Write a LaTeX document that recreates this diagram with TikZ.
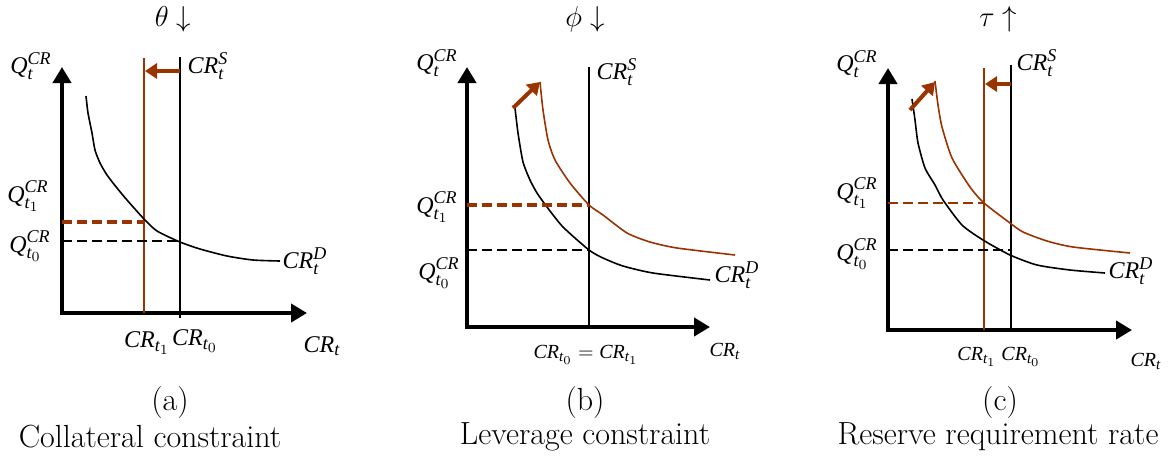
\documentclass[tikz,border=0pt]{standalone}
\usepackage{amsmath}
\usepackage{fontspec}
\newfontfamily\tnr{Liberation Serif}
\usetikzlibrary{arrows.meta}
\definecolor{rust}{RGB}{153,51,0}
\DeclareMathSizes{12}{12}{9}{7}
\DeclareMathSizes{10}{10}{7.5}{6}
\newcommand{\ti}[1]{\text{\tnr\itshape #1}}
\tikzset{
  axis/.style={line width=2pt, {Triangle[length=8pt,width=9pt]}-{Triangle[length=8pt,width=9pt]}},
  demand/.style={line width=0.8pt, smooth, tension=0.4},
  supply/.style={line width=0.7pt},
  movearr/.style={rust, line width=2pt, -{Triangle[length=6pt,width=7.5pt]}},
  level/.style={line width=1pt, dash pattern=on 5pt off 2.5pt},
  lab/.style={font=\large, inner sep=0pt},
  captxt/.style={font=\fontsize{16}{19}\selectfont, inner sep=0pt},
  ttl/.style={font=\fontsize{15}{18}\selectfont, inner sep=0pt, anchor=north}
}

\begin{document}
\begin{tikzpicture}[x=0.5pt, y=-0.5pt]
  \useasboundingbox (0,0) rectangle (1171,457);

  % (a) collateral constraint
  \node[ttl] (Ta) at (173,6) {$\theta\downarrow$};
  \coordinate (Oa) at (62,313);
  \coordinate (Ya) at (62,67);
  \coordinate (Xa) at (307,313);
  \draw[axis] (Ya) -- (Oa) -- (Xa);
  \coordinate (S0at) at (180,57);  \coordinate (S0ab) at (180,318);
  \coordinate (S1at) at (144,58);  \coordinate (S1ab) at (144,313);
  \draw[supply] (S0at) -- (S0ab);
  \draw[supply, rust, line width=0.6pt] (S1at) -- (S1ab);
  \coordinate (Aa0) at (180,71);  \coordinate (Aa1) at (145,71);
  \draw[movearr] (Aa0) -- (Aa1);
  \draw[demand] plot coordinates {(86,96) (88,113) (92,133) (95,150) (100,163) (107,175) (117,188) (127,200) (144,219) (157,231) (180,242) (200,249) (227,256) (253,260) (280,261)};
  \coordinate (E0a) at (180,241);  \coordinate (Q0a) at (62,241);
  \coordinate (E1a) at (144,222);  \coordinate (Q1a) at (62,222);
  \draw[level] (Q0a) -- (E0a);
  \draw[level, rust, line width=1.6pt] (Q1a) -- (E1a);
  \node[lab] (Qa) at (31,66) {$\ti{Q}_{\ti{t}}^{\ti{CR}}$};
  \node[lab] (Qa1) at (28,196) {$\ti{Q}_{\ti{t}_1}^{\ti{CR}}$};
  \node[lab] (Qa0) at (30,246) {$\ti{Q}_{\ti{t}_0}^{\ti{CR}}$};
  \node[lab] (Sa) at (208,66) {$\ti{CR}_{\ti{t}}^{\ti{S}}$};
  \node[lab] (Da) at (305,261) {$\ti{CR}_{\ti{t}}^{\ti{D}}$};
  \node[lab] (Ca1) at (147,343) {$\ti{CR}_{\ti{t}_1}$};
  \node[lab] (Ca0) at (195,341) {$\ti{CR}_{\ti{t}_0}$};
  \node[lab] (Ca) at (322,346) {$\ti{CR}_{\ti{t}}$};
  \node[captxt] (La) at (170,403) {(a)};
  \node[captxt] (Na) at (150,437) {Collateral constraint};

  % (b) leverage constraint
  \node[ttl] (Tb) at (585,6) {$\phi\downarrow$};
  \coordinate (Ob) at (467,327);
  \coordinate (Yb) at (467,67);
  \coordinate (Xb) at (710,327);
  \draw[axis] (Yb) -- (Ob) -- (Xb);
  \coordinate (Sbt) at (589,67);  \coordinate (Sbb) at (589,327);
  \draw[supply] (Sbt) -- (Sbb);
  \draw[demand] plot coordinates {(515,108) (518,133) (523,162) (530,180) (537,193) (547,207) (563,227) (589,250) (603,258) (623,266) (653,273) (710,280)};
  \draw[demand, rust] plot coordinates {(540,82) (543,110) (548,140) (555,160) (570,183) (589,205) (603,215) (627,233) (650,242) (677,248) (735,255)};
  \coordinate (Ab0) at (513,108);  \coordinate (Ab1) at (540,82);
  \draw[movearr] (Ab0) -- (Ab1);
  \coordinate (E0b) at (589,250);  \coordinate (Q0b) at (467,250);
  \coordinate (E1b) at (589,205);  \coordinate (Q1b) at (467,205);
  \draw[level] (Q0b) -- (E0b);
  \draw[level, rust, line width=1.8pt] (Q1b) -- (E1b);
  \node[lab] (Qb) at (437,63) {$\ti{Q}_{\ti{t}}^{\ti{CR}}$};
  \node[lab] (Qb1) at (437,207) {$\ti{Q}_{\ti{t}_1}^{\ti{CR}}$};
  \node[lab] (Qb0) at (439,273) {$\ti{Q}_{\ti{t}_0}^{\ti{CR}}$};
  \node[lab] (Sb) at (617,72) {$\ti{CR}_{\ti{t}}^{\ti{S}}$};
  \node[lab] (Db) at (737,275) {$\ti{CR}_{\ti{t}}^{\ti{D}}$};
  \node[lab, font=\normalsize] (Cb) at (586,355) {$\ti{CR}_{\ti{t}_0}=\ti{CR}_{\ti{t}_1}$};
  \node[lab, font=\normalsize] (Cbt) at (725,351) {$\ti{CR}_{\ti{t}}$};
  \node[captxt] (Lb) at (585,403) {(b)};
  \node[captxt] (Nb) at (585,437) {Leverage constraint};

  % (c) reserve requirement rate
  \node[ttl] (Tc) at (998,6) {$\tau\uparrow$};
  \coordinate (Oc) at (888,330);
  \coordinate (Yc) at (888,68);
  \coordinate (Xc) at (1132,330);
  \draw[axis] (Yc) -- (Oc) -- (Xc);
  \coordinate (S0ct) at (1011,65);  \coordinate (S0cb) at (1011,330);
  \coordinate (S1ct) at (984,68);   \coordinate (S1cb) at (984,330);
  \draw[supply] (S0ct) -- (S0cb);
  \draw[supply, rust, line width=0.6pt] (S1ct) -- (S1cb);
  \coordinate (Ac0) at (1011,84);  \coordinate (Ac1) at (985,84);
  \draw[movearr, line width=1.6pt] (Ac0) -- (Ac1);
  \draw[demand] plot coordinates {(912,99) (915,120) (918,143) (925,168) (935,185) (943,200) (962,225) (983,240) (1010,255) (1037,265) (1070,270) (1105,273)};
  \draw[demand, rust] plot coordinates {(935,81) (938,105) (942,127) (952,158) (970,187) (984,203) (1010,223) (1023,232) (1047,241) (1073,247) (1130,253)};
  \coordinate (Bc0) at (910,110);  \coordinate (Bc1) at (935,82);
  \draw[movearr] (Bc0) -- (Bc1);
  \coordinate (E0c) at (1011,250);  \coordinate (Q0c) at (888,250);
  \coordinate (E1c) at (984,203);   \coordinate (Q1c) at (888,203);
  \draw[level, line width=1.3pt] (Q0c) -- (E0c);
  \draw[level, rust] (Q1c) -- (E1c);
  \node[lab] (Qc) at (857,64) {$\ti{Q}_{\ti{t}}^{\ti{CR}}$};
  \node[lab] (Qc1) at (857,193) {$\ti{Q}_{\ti{t}_1}^{\ti{CR}}$};
  \node[lab] (Qc0) at (857,254) {$\ti{Q}_{\ti{t}_0}^{\ti{CR}}$};
  \node[lab] (Sc) at (1037,63) {$\ti{CR}_{\ti{t}}^{\ti{S}}$};
  \node[lab] (Dc) at (1131,271) {$\ti{CR}_{\ti{t}}^{\ti{D}}$};
  \node[lab, font=\normalsize] (Cc1) at (977,357) {$\ti{CR}_{\ti{t}_1}$};
  \node[lab, font=\normalsize] (Cc0) at (1021,357) {$\ti{CR}_{\ti{t}_0}$};
  \node[lab, font=\normalsize] (Cct) at (1146,361) {$\ti{CR}_{\ti{t}}$};
  \node[captxt] (Lc) at (1000,403) {(c)};
  \node[captxt] (Nc) at (998,437) {Reserve requirement rate};
\end{tikzpicture}
\end{document}
